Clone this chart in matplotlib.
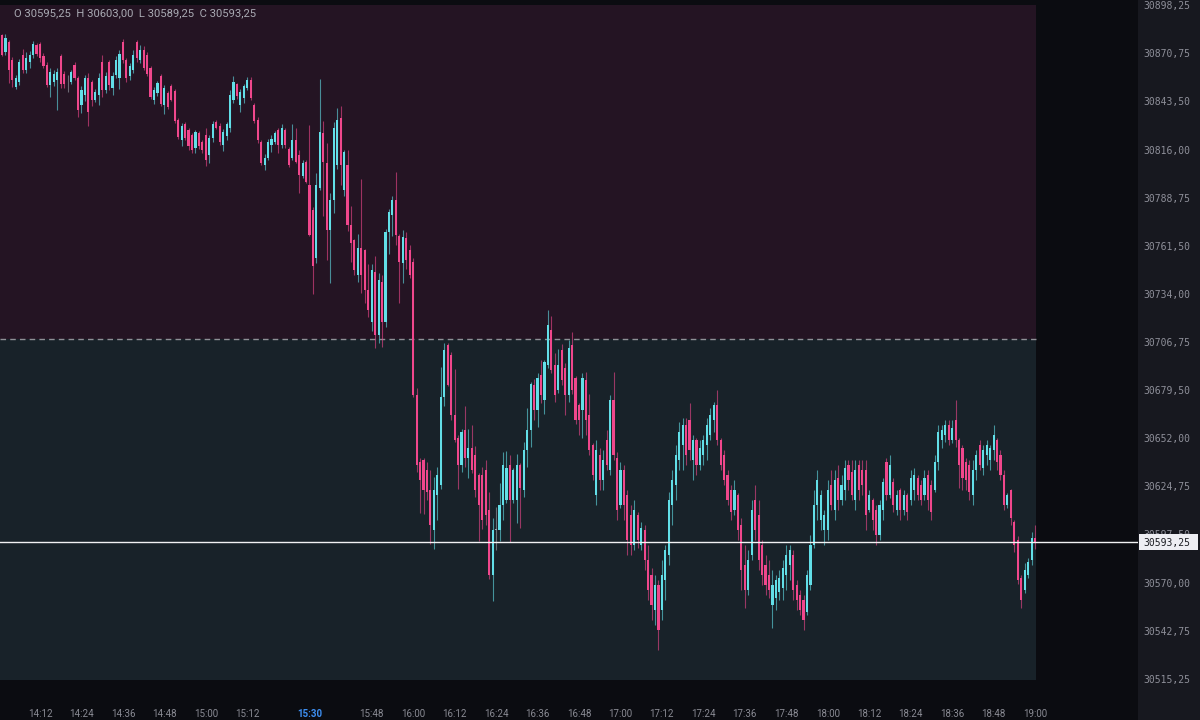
import numpy as np
import matplotlib
matplotlib.use("Agg")
import matplotlib.pyplot as plt
from matplotlib.patches import Rectangle
from matplotlib.transforms import blended_transform_factory

# 1-minute bars, 14:01 -> 19:00
start_time = "14:01"

opens = [
    30881.25, 30871.5, 30877.25, 30867, 30851.75, 30854.5, 30869.75, 30861.25, 30865.75, 30869.75,
    30875.5, 30876, 30869.25, 30864.25, 30852.75, 30854.5, 30855.5, 30869.25, 30859, 30854.5,
    30854.5, 30864.25, 30856.75, 30841.5, 30847, 30856.75, 30854.5, 30844.25, 30847, 30865.75,
    30850, 30865.75, 30851, 30858.5, 30856.75, 30877.25, 30867, 30858, 30861.25, 30877.25,
    30867, 30872.75, 30869.75, 30862.5, 30844.25, 30848.25, 30858, 30841.5, 30848.25, 30852.25,
    30849.5, 30833, 30821.5, 30830.75, 30827.25, 30824.5, 30817, 30825.5, 30820.5, 30824.5,
    30813, 30822.75, 30831.75, 30829.5, 30818.75, 30823.75, 30828.25, 30844.25, 30853.25, 30841.5,
    30845.5, 30851, 30855.5, 30841.5, 30833, 30820.5, 30807.25, 30811.25, 30818.75, 30820.5,
    30827.25, 30818.75, 30827.25, 30816.5, 30811.25, 30821.5, 30813, 30801, 30809, 30796,
    30781.75, 30754.5, 30794.25, 30825.5, 30808.5, 30770.5, 30787.5, 30807.25, 30834, 30793.25,
    30807.25, 30773.25, 30764.75, 30744.75, 30760.25, 30759, 30736.25, 30718, 30746.5, 30710.75,
    30740.75, 30718, 30769.25, 30779, 30787.5, 30767, 30751.75, 30765.75, 30759, 30752.25,
    30676.75, 30638.5, 30639.75, 30634, 30622.75, 30600, 30619.75, 30625.5, 30675.5, 30705,
    30699.5, 30665.25, 30652.25, 30637, 30656.75, 30640.75, 30646.5, 30642.5, 30631.25, 30631.25,
    30634, 30611.25, 30574.5, 30600, 30600, 30614.25, 30617, 30637, 30617, 30617,
    30637, 30622.75, 30645.5, 30656.75, 30682.25, 30668.25, 30688, 30673.75, 30693.75, 30713.5,
    30693.75, 30679.5, 30702.25, 30692, 30676.75, 30705, 30686.25, 30671, 30668.25, 30685.25,
    30665.25, 30648.25, 30619.75, 30642.5, 30628.25, 30651, 30634, 30673.75, 30640.75, 30614.25,
    30634, 30619.75, 30608.5, 30591.5, 30608.5, 30591.5, 30600, 30583, 30574.5, 30554.5,
    30568.75, 30554.5, 30571.5, 30585.75, 30614.25, 30625.5, 30639.75, 30648.25, 30659.5, 30662.5,
    30639.75, 30651, 30637, 30642.5, 30648.25, 30654, 30662.5, 30671, 30651, 30642.5,
    30631.25, 30622.75, 30611.25, 30619.75, 30602.75, 30580, 30565.75, 30585.75, 30617, 30608.5,
    30591.5, 30580, 30574.5, 30557.25, 30561.25, 30564.75, 30567, 30574.5, 30580, 30585.75,
    30568.75, 30563, 30560.25, 30553.25, 30568.75, 30591.5, 30614.25, 30605.75, 30600, 30600,
    30625.5, 30611.25, 30629.5, 30617, 30622.75, 30637, 30633, 30617, 30637, 30634,
    30634, 30611.25, 30617, 30611.25, 30597, 30611.25, 30638.5, 30619.75, 30627.25, 30611.25,
    30622.75, 30611.25, 30619.75, 30617, 30622.75, 30629.5, 30625.5, 30619.75, 30631.25, 30625.5,
    30622.75, 30638.5, 30651, 30654, 30659.5, 30651, 30662.5, 30651, 30646.5, 30638.5,
    30637, 30619.75, 30634, 30648.25, 30635.25, 30642.5, 30639.75, 30645.5, 30651, 30642.5,
    30631.25, 30614.25, 30622.75, 30604.5, 30594.25, 30572.75, 30565.75, 30574.5, 30583, 30595.25,
]

highs = [
    30881.75, 30881.75, 30878.25, 30868.75, 30858.5, 30867.5, 30873.25, 30871.5, 30872, 30877.75,
    30876.75, 30877.25, 30871, 30865.75, 30862.5, 30861.25, 30862.5, 30870.5, 30860.75, 30858.5,
    30861.25, 30865.75, 30858, 30852.25, 30858.5, 30859.5, 30855.5, 30850.5, 30859.5, 30869.75,
    30860.25, 30867, 30860.25, 30869.25, 30872.75, 30879, 30868, 30865.25, 30872.75, 30878.25,
    30875.5, 30875, 30871.5, 30863.5, 30851.75, 30855, 30859, 30852.75, 30849.5, 30853.25,
    30850.5, 30834, 30831.25, 30831.75, 30828.25, 30825.5, 30827.25, 30826.75, 30821.5, 30828.25,
    30824.5, 30832.25, 30833, 30831.25, 30827.75, 30831.75, 30850, 30858, 30854, 30850.5,
    30853.25, 30857.25, 30857.25, 30842.5, 30834.5, 30821.5, 30813.5, 30822, 30824.5, 30826.75,
    30828.25, 30830.75, 30828.25, 30817.5, 30830.75, 30828.25, 30815.75, 30810.25, 30810.25, 30830,
    30783.5, 30802.75, 30856.25, 30832.25, 30819.75, 30791.5, 30831.75, 30839.75, 30840.75, 30815.75,
    30815.75, 30784, 30765.25, 30768, 30799.5, 30759.5, 30751, 30751, 30755.5, 30746,
    30744.75, 30771, 30782.25, 30789.75, 30803.25, 30768, 30770.5, 30769.25, 30762, 30754.5,
    30680.75, 30640.75, 30640.75, 30638.5, 30634, 30630, 30635.75, 30692.5, 30706.25, 30706.25,
    30701, 30691.5, 30654, 30657.25, 30670.5, 30657.25, 30659.5, 30647.75, 30632.25, 30635.75,
    30639.75, 30621.5, 30606.75, 30613, 30626.75, 30644.25, 30644.75, 30642.5, 30635.25, 30643.25,
    30638, 30650, 30669.25, 30684, 30685.75, 30689.25, 30696.5, 30696.5, 30725, 30721.5,
    30700.5, 30702.75, 30705.75, 30694.75, 30708, 30712.5, 30687.5, 30672, 30689.25, 30689.75,
    30677.25, 30649.5, 30651, 30646.5, 30645.5, 30656.75, 30676.75, 30689.75, 30644.25, 30638.5,
    30637, 30622.75, 30614.25, 30617, 30610.25, 30604.5, 30602.75, 30591.5, 30578.25, 30574.5,
    30571.5, 30583, 30591.5, 30621.5, 30634, 30648.25, 30661.25, 30663.5, 30663.5, 30672,
    30654, 30652.25, 30651, 30654, 30663.5, 30669.25, 30672.75, 30679.5, 30652.25, 30645.5,
    30634, 30625.5, 30628.25, 30621, 30606.75, 30591.5, 30588.5, 30617, 30625.5, 30617,
    30594.25, 30585.75, 30583, 30577.25, 30574.5, 30577.25, 30583, 30591.5, 30591.5, 30588.5,
    30571.5, 30565.75, 30563, 30577.25, 30597, 30622.75, 30634, 30622.75, 30611.25, 30628.25,
    30634, 30634, 30637, 30631.25, 30639.75, 30639.75, 30639.75, 30639.75, 30639.75, 30639.75,
    30639.75, 30622.75, 30618, 30614.25, 30617, 30629.5, 30640.75, 30642.5, 30629.5, 30622.75,
    30623.75, 30622.75, 30621, 30634, 30635.25, 30631.25, 30628.25, 30634, 30634, 30628.25,
    30642.5, 30659.5, 30659.5, 30662.5, 30662.5, 30662.5, 30673.75, 30652.25, 30648.25, 30640.75,
    30639.75, 30639.75, 30645.5, 30651, 30648.25, 30651, 30648.25, 30659.5, 30652.25, 30645.5,
    30634, 30621, 30623.25, 30605.75, 30596.5, 30574.5, 30581.25, 30584, 30598.75, 30603.0,
]

lows = [
    30869.25, 30869.75, 30854, 30851.75, 30850.5, 30852.75, 30859.5, 30859.5, 30862.5, 30868,
    30869.25, 30865.75, 30862.5, 30851.75, 30846, 30852.25, 30838.5, 30851, 30851, 30848.75,
    30853.25, 30855.5, 30834.5, 30837, 30843.75, 30829.5, 30840.75, 30843, 30841.5, 30846,
    30848.25, 30850, 30847, 30856.75, 30850.5, 30865.25, 30854.5, 30855.5, 30859.5, 30865.75,
    30865.25, 30861.25, 30858, 30844.75, 30842, 30846.5, 30840.75, 30836.25, 30839.25, 30843.75,
    30831.25, 30822, 30818, 30821.5, 30815.75, 30814.25, 30814.25, 30816.5, 30814.25, 30806.75,
    30808.5, 30820.5, 30827.75, 30818.75, 30815.25, 30821.5, 30826, 30842.5, 30844.75, 30837.5,
    30842.5, 30850, 30844.25, 30831.25, 30819.75, 30807.25, 30804.5, 30810.25, 30814.75, 30819.25,
    30814.25, 30817, 30817, 30806.25, 30810.25, 30808.5, 30791.5, 30800, 30797, 30767,
    30734, 30751.75, 30793.25, 30778.25, 30753.25, 30740.25, 30780, 30805, 30796, 30789.75,
    30769.75, 30752.25, 30744.75, 30740.75, 30734.5, 30729, 30721, 30713, 30703.25, 30706.25,
    30704, 30715.25, 30756.75, 30767, 30762, 30729, 30740.25, 30748.25, 30743, 30675.5,
    30633, 30609.5, 30609, 30617, 30592, 30589.25, 30605.75, 30623.25, 30670.5, 30681.75,
    30662.5, 30650, 30623.25, 30633, 30635.75, 30629.5, 30632.25, 30618.75, 30593.75, 30600.5,
    30602.75, 30572, 30559.5, 30588.5, 30593.75, 30605.75, 30615.25, 30593, 30615.25, 30604,
    30601, 30618.75, 30635.75, 30647, 30662.5, 30658.5, 30672, 30665.75, 30692, 30689.25,
    30672.75, 30677.75, 30682.25, 30665.25, 30672.75, 30677.25, 30660.25, 30654, 30652.25, 30654,
    30642.5, 30628.25, 30614.25, 30622.75, 30622.75, 30634, 30631.25, 30639.75, 30605.75, 30612.5,
    30605.75, 30585.75, 30585.75, 30588.5, 30589.75, 30588.5, 30577.25, 30560.25, 30548.75, 30546,
    30531.75, 30548.75, 30560.25, 30580, 30602.75, 30617, 30634, 30634, 30637, 30639.75,
    30628.25, 30631.25, 30634, 30637, 30639.75, 30651, 30655.75, 30648.25, 30634, 30625.5,
    30614.25, 30605.75, 30608.5, 30594.25, 30565.75, 30555.75, 30563, 30583, 30594.25, 30577.25,
    30568.75, 30563, 30561.25, 30544.25, 30554.5, 30560.25, 30560.25, 30565.75, 30571.5, 30560.25,
    30554.5, 30551.75, 30543.25, 30551.75, 30565.75, 30589.75, 30605.75, 30600, 30591.5, 30594.25,
    30611.25, 30605.75, 30611.25, 30614.25, 30617, 30622.75, 30617, 30611.25, 30617, 30619.75,
    30600, 30610.25, 30600, 30591.5, 30594.25, 30605.75, 30617, 30618, 30610.25, 30608.5,
    30605.75, 30608.5, 30605.75, 30614.25, 30617, 30617, 30614.25, 30617, 30611.25, 30605.75,
    30621.5, 30634, 30646.5, 30650, 30648.25, 30649.5, 30647, 30623.75, 30622.75, 30622.75,
    30617, 30614.25, 30628.25, 30634, 30631.25, 30637, 30634, 30639.75, 30634, 30628.25,
    30611.25, 30612.5, 30602.75, 30587.5, 30569.25, 30555.75, 30564.25, 30572.75, 30580, 30589.25,
]

closes = [
    30869.75, 30879.5, 30861.25, 30855.5, 30856.75, 30865.75, 30861.25, 30868, 30869.75, 30876,
    30870.5, 30868, 30863.5, 30852.75, 30860.25, 30859, 30860.25, 30853.25, 30853.25, 30854.5,
    30860.25, 30856.75, 30838.5, 30850, 30856.75, 30837.5, 30844.25, 30848.75, 30856.75, 30850,
    30858, 30852.75, 30858, 30867, 30870.5, 30867, 30856.75, 30863.5, 30869.75, 30868,
    30872.75, 30862.5, 30859, 30846, 30850, 30854, 30842, 30851, 30840.25, 30844.25,
    30832.25, 30823.25, 30829.5, 30822.75, 30818, 30815.75, 30826, 30818, 30815.75, 30810.25,
    30822.75, 30830.75, 30828.25, 30820.5, 30826, 30830.75, 30847, 30854.5, 30846.5, 30848.75,
    30852.25, 30855.5, 30845.5, 30832.25, 30821.5, 30808.5, 30811.25, 30820.5, 30822, 30825.5,
    30818.75, 30828.25, 30818.75, 30807.25, 30821.5, 30809, 30801.75, 30808.5, 30797.75, 30767.5,
    30750, 30796, 30826, 30809, 30770.5, 30787.5, 30828.25, 30833, 30807.25, 30814.75,
    30773.25, 30763, 30747.75, 30760.25, 30744.75, 30736.25, 30725, 30747.75, 30710.75, 30742,
    30718, 30769.25, 30780.5, 30787.5, 30767.5, 30752.25, 30766.5, 30753.25, 30744.75, 30676.75,
    30637, 30628.25, 30622.75, 30621.5, 30602.75, 30622.75, 30631.25, 30675.5, 30702.25, 30682.25,
    30665.25, 30651, 30637, 30655.75, 30640.75, 30646.5, 30634, 30622.75, 30614.25, 30605.75,
    30608.5, 30574.5, 30600, 30600, 30614.25, 30637, 30635.25, 30617, 30634, 30637,
    30623.75, 30645.5, 30656.75, 30683, 30668.25, 30686.25, 30676.75, 30695.5, 30716.5, 30690.75,
    30676.75, 30693.75, 30685.25, 30676.75, 30703.25, 30679.5, 30662.5, 30662.5, 30686.25, 30662.5,
    30645.5, 30631.25, 30645.5, 30628.25, 30639.75, 30637, 30673.75, 30642.5, 30611.25, 30634,
    30614.25, 30594.25, 30591.5, 30611.25, 30594.25, 30601, 30583, 30565.75, 30557.25, 30568.75,
    30543.25, 30574.5, 30588.5, 30617, 30628.25, 30642.5, 30655.75, 30659.5, 30642.5, 30645.5,
    30651, 30637, 30646.5, 30651, 30659.5, 30665.25, 30671, 30651, 30637, 30628.25,
    30617, 30610.25, 30622.75, 30600, 30577.25, 30565.75, 30583, 30611.25, 30600, 30583,
    30574.5, 30568.75, 30565.75, 30568.75, 30571.5, 30572.75, 30578.25, 30585.75, 30588.5, 30565.75,
    30560.25, 30554.5, 30548.75, 30574.5, 30591.5, 30614.25, 30628.25, 30619.75, 30608.5, 30622.75,
    30614.25, 30628.25, 30617, 30625.5, 30635.25, 30628.25, 30619.75, 30634, 30622.75, 30625.5,
    30608.5, 30619.75, 30605.75, 30597, 30614.25, 30627.25, 30619.75, 30637, 30614.25, 30619.75,
    30611.25, 30619.75, 30610.25, 30629.5, 30631.25, 30619.75, 30617, 30629.5, 30617, 30610.25,
    30638.5, 30655.75, 30656.75, 30659.5, 30651, 30658, 30651, 30637, 30629.5, 30628.25,
    30621.5, 30634, 30642.5, 30637, 30645.5, 30648.25, 30646.5, 30654, 30638.5, 30631.25,
    30614.25, 30619.75, 30606.75, 30591.5, 30571.5, 30560.25, 30577.25, 30581.75, 30595.5, 30593.25,
]

zone_level = 30708.5

price_ticks = [30515.25, 30542.75, 30570.00, 30597.50, 30624.75, 30652.00, 30679.50,
               30706.75, 30734.00, 30761.50, 30788.75, 30816.00, 30843.50, 30870.75, 30898.25]

time_ticks = ["14:12", "14:24", "14:36", "14:48", "15:00", "15:12", "15:30", "15:48",
              "16:00", "16:12", "16:24", "16:36", "16:48", "17:00", "17:12", "17:24",
              "17:36", "17:48", "18:00", "18:12", "18:24", "18:36", "18:48", "19:00"]
highlight_time = "15:30"


def to_minutes(t):
    h, m = t.split(":")
    return int(h) * 60 + int(m)


def fmt(p):
    return f"{p:.2f}".replace(".", ",")


plt.rcParams["font.family"] = ["Roboto", "DejaVu Sans"]

o = np.array(opens, dtype=float)
c = np.array(closes, dtype=float)
hi = np.maximum(np.array(highs, dtype=float), np.maximum(o, c))
lo = np.minimum(np.array(lows, dtype=float), np.minimum(o, c))
x = np.arange(len(o))

BG = "#0b0c11"
UP = "#62dfe8"
DOWN = "#f0478c"
FLAT = "#9ea3ab"

W, H = 1200, 720
fig = plt.figure(figsize=(12, 7.2), dpi=100, facecolor=BG)

# price axis panel on the right
fig.add_artist(Rectangle((1138 / W, 0), 62 / W, 1, transform=fig.transFigure,
                         color="#17181f", lw=0, zorder=-1))

ax = fig.add_axes([0, 40 / H, 1138 / W, 675 / H])
ax.set_facecolor(BG)
for s in ax.spines.values():
    s.set_visible(False)

px = 3.455  # pixels per bar
y_lo, y_hi = 30514.7, 30898.25
zone_frac = 1036 / 1138

ax.axhspan(zone_level, y_hi, xmax=zone_frac, color="#241423", lw=0, zorder=0)
ax.axhspan(y_lo, zone_level, xmax=zone_frac, color="#182229", lw=0, zorder=0)
ax.axhline(zone_level, xmax=zone_frac, color="#8f8f96", lw=1, ls=(0, (4, 3)), zorder=1)

body_col = np.where(c > o, UP, np.where(c < o, DOWN, FLAT))
ax.vlines(x, lo, hi, colors=list(body_col), lw=0.8, alpha=0.6, zorder=2)
height = np.maximum(np.abs(c - o), 0.5)
bottom = np.where(c == o, o - 0.25, np.minimum(o, c))
ax.bar(x, height, bottom=bottom, width=0.62, color=list(body_col), lw=0, zorder=3)

last = closes[-1]
ax.axhline(last, color="#f2f2f4", lw=1, zorder=4)

ax.set_xlim(-2 / px, -2 / px + 1138 / px)
ax.set_ylim(y_lo, y_hi)

t0 = to_minutes(start_time)
ax.set_xticks([to_minutes(t) - t0 for t in time_ticks], time_ticks)
ax.tick_params(axis="x", length=0, pad=21, labelsize=7, labelcolor="#8a8b94")
for lbl in ax.get_xticklabels():
    if lbl.get_text() == highlight_time:
        lbl.set_color("#3d8ef0")
        lbl.set_fontweight("bold")

ax.yaxis.tick_right()
ax.set_yticks(price_ticks, [fmt(p) for p in price_ticks])
ax.tick_params(axis="y", length=0, pad=3.6, labelsize=7, labelcolor="#8e8f99")
for lbl in ax.get_yticklabels():
    lbl.set_fontfamily("DejaVu Sans Mono")

# current price tag
tr = blended_transform_factory(fig.transFigure, ax.transData)
pp = (y_hi - y_lo) / 675  # price per pixel
fig.add_artist(Rectangle((1139 / W, last - 8 * pp), 59 / W, 16 * pp, transform=tr,
                         color="#eeeef3", lw=0, zorder=5))
fig.text(1143 / W, last, fmt(last), transform=tr, va="center_baseline", ha="left",
         fontsize=7, color="#1b1c22", family="DejaVu Sans Mono", zorder=6)

# OHLC header of the last bar
fig.text(14 / W, 1 - 13 / H,
         f"O {fmt(o[-1])}  H {fmt(hi[-1])}  L {fmt(lo[-1])}  C {fmt(c[-1])}",
         va="center", ha="left", fontsize=8.1, color="#a9aab3")

fig.savefig("out.png", dpi=100, facecolor=BG)
